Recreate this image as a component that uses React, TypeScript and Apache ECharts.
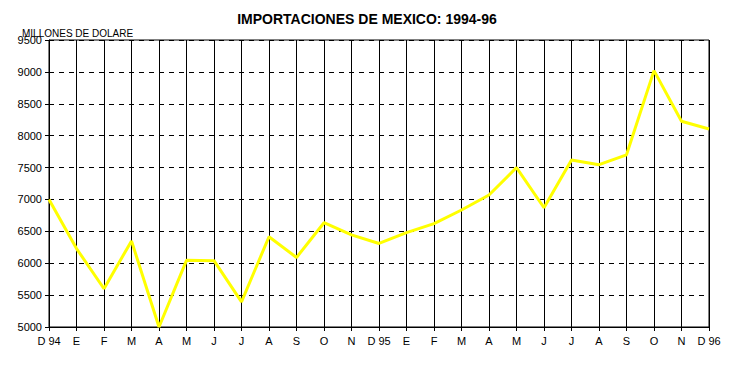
import React, { useEffect, useRef } from "react";
import * as echarts from "echarts";

const categories = ["D 94","E","F","M","A","M","J","J","A","S","O","N","D 95","E","F","M","A","M","J","J","A","S","O","N","D 96"];
const imports = [7000,6230,5600,6350,5000,6045,6040,5395,6415,6090,6635,6445,6310,6480,6620,6835,7070,7500,6870,7620,7545,7700,9020,8225,8105];
const yMin = 5000;
const yMax = 9500;
const yStep = 500;

export default function App() {
  const ref = useRef<HTMLDivElement>(null);
  useEffect(() => {
    document.body.style.margin = "0";
    const chart = echarts.init(ref.current!, null, { renderer: "svg" });
    const font = "'Liberation Sans', Arial, sans-serif";
    chart.setOption({
      animation: false,
      backgroundColor: "#fff",
      title: {
        text: "IMPORTACIONES DE MEXICO: 1994-96",
        left: 362,
        textAlign: "center",
        top: 7,
        textStyle: { fontFamily: font, fontSize: 14, fontWeight: "bold", color: "#000" },
      },
      graphic: [
        {
          type: "text",
          left: 22,
          top: 28,
          style: { text: "MILLONES DE DOLARE", font: `10px ${font}`, fill: "#000" },
        },
      ],
      grid: {
        left: 49, right: 27, top: 40, bottom: 38,
        show: true, borderColor: "#000", borderWidth: 1, backgroundColor: "transparent",
      },
      xAxis: {
        type: "category",
        data: categories,
        boundaryGap: false,
        axisLine: { lineStyle: { color: "#000", width: 1 } },
        axisTick: { show: true, length: 4, lineStyle: { color: "#000" } },
        axisLabel: { color: "#000", fontFamily: font, fontSize: 11, margin: 8, interval: 0 },
        splitLine: { show: true, lineStyle: { color: "#000", width: 1, type: "solid" } },
      },
      yAxis: {
        type: "value",
        min: yMin,
        max: yMax,
        interval: yStep,
        axisLine: { show: true, lineStyle: { color: "#000", width: 1 } },
        axisTick: { show: true, length: 4, lineStyle: { color: "#000" } },
        axisLabel: { color: "#000", fontFamily: font, fontSize: 11, margin: 7, formatter: (v: number) => String(v) },
        splitLine: { show: true, lineStyle: { color: "#000", width: 1, type: [5, 5] } },
      },
      series: [
        {
          type: "line",
          data: imports,
          symbol: "none",
          lineStyle: { color: "#ffff00", width: 3 },
          itemStyle: { color: "#ffff00" },
        },
      ],
    });
    return () => chart.dispose();
  }, []);
  return <div ref={ref} style={{ width: 736, height: 365 }} />;
}
